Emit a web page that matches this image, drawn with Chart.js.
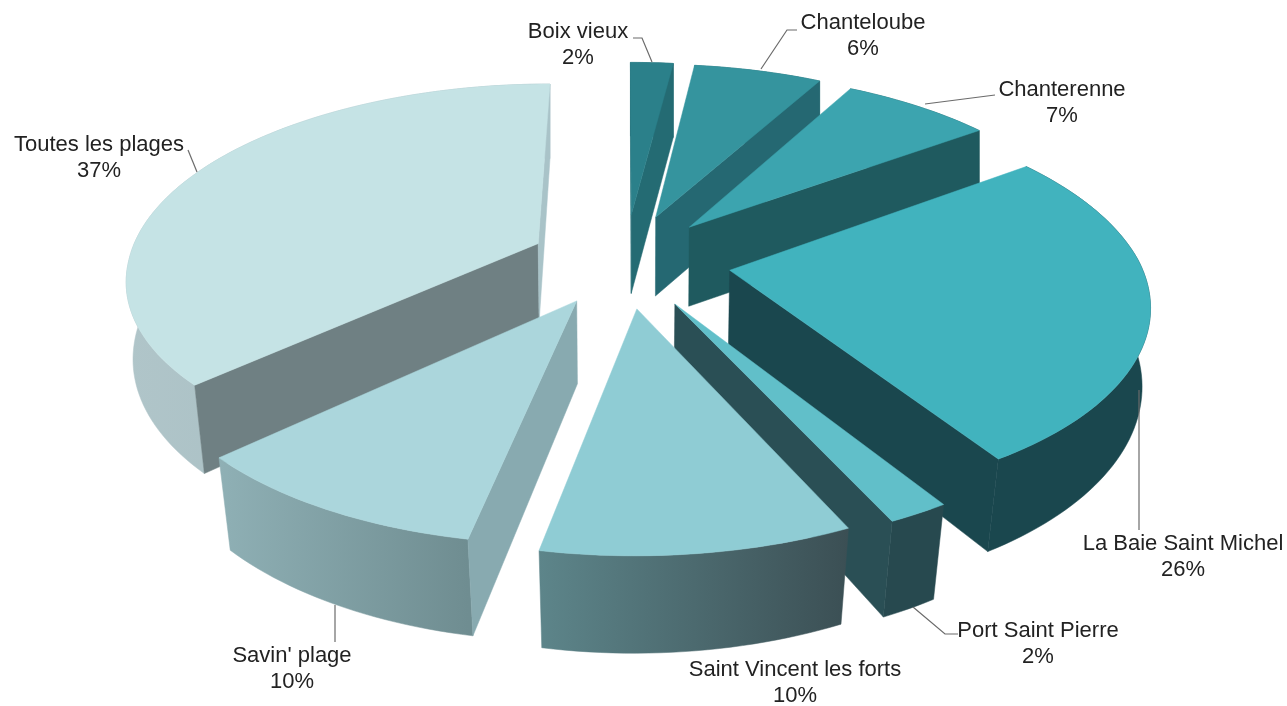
<!DOCTYPE html>
<html>
<head>
<meta charset="utf-8">
<title>Plages</title>
<script src="https://cdn.jsdelivr.net/npm/chart.js@4"></script>
<style>
  html, body { margin: 0; padding: 0; background: #fff; }
  canvas { display: block; }
</style>
</head>
<body>
<canvas id="pie" width="1287" height="706"></canvas>
<script>
// ===== DATA =====
const categories = ['Boix vieux', 'Chanteloube', 'Chanterenne', 'La Baie Saint Michel', 'Port Saint Pierre', 'Saint Vincent les forts', "Savin' plage", 'Toutes les plages'];
const shares = [2, 6, 7, 26, 2, 10, 10, 37];

// ===== STYLE PER SLICE =====
const explode = [104, 103, 100, 106, 102, 100, 95, 96];
const topColors = ['#2b808a', '#35949e', '#3ca4af', '#41b3be', '#61bfc9', '#8fccd4', '#abd6dc', '#c5e3e5'];
const startWall = ['#256e77', '#256a72', '#1f5a60', '#1a474e', '#2a4f55', '#3f5a5e', '#88aab0', '#6f8083'];
const endWall = ['#246b73', '#256872', '#1f5a5f', '#1a474e', '#2a4f55', '#3f5a5e', '#88aab0', '#a9c3c8'];
const rimLeft = ['#256e77', '#256a72', '#1f5a60', '#1a474e', '#27494f', '#5d858a', '#8fb0b5', '#b0c5c9'];
const rimRight = ['#256e77', '#256a72', '#1f5a60', '#1a474e', '#27494f', '#3b4f54', '#6f8d91', '#a0b9be'];

// ===== LABELS =====
const labelX = [578, 863, 1062, 1183, 1038, 795, 292, 99];
const labelY = [32, 23, 90, 544, 631, 670, 656, 145];
const leaders = [
  [[633, 38], [642, 38], [652, 62]],
  [[797, 30], [787, 30], [761, 69]],
  [[995, 95], [925, 104]],
  [[1139, 390], [1139, 530]],
  [[958, 634], [945, 634], [913, 607]],
  [],
  [[335, 605], [335, 642]],
  [[188, 150], [197, 172]]
];

// ===== VIEW =====
const viewX = 625, viewY = 261;
const squash = 0.464, persp = 0.00039, pieRadius = 410;
const lean = 0.012;

function project(X, Y, low) {
  const w = 1 + persp * Y;
  const t = Y / pieRadius;
  const shrink = Math.min(1, 0.988 + 0.018 * t);
  const depth = t > 0 ? 80 - 5 * t : 80 - 14 * t;
  return {
    x: viewX + X / w * (low ? shrink : 1) + lean * Math.min(Y, 0),
    y: viewY - squash * Y / w + (low ? depth : 0)
  };
}

function slicePoint(arc, angle, r, off, low) {
  const mid = (arc.startAngle + arc.endAngle) / 2;
  const X = Math.cos(angle) * r + Math.cos(mid) * off;
  const Y = -(Math.sin(angle) * r + Math.sin(mid) * off);
  return project(X, Y, low);
}

function fillPoly(ctx, pts, fill) {
  ctx.beginPath();
  pts.forEach((p, i) => i ? ctx.lineTo(p.x, p.y) : ctx.moveTo(p.x, p.y));
  ctx.closePath();
  ctx.fillStyle = fill;
  ctx.fill();
  ctx.strokeStyle = fill;
  ctx.lineWidth = 0.5;
  ctx.stroke();
}

function drawSlice(ctx, arc, i) {
  const off = arc.options.offset;
  const r = arc.outerRadius;
  const steps = Math.max(4, Math.ceil((arc.endAngle - arc.startAngle) * 40));
  const topArc = [], lowArc = [];
  for (let s = 0; s <= steps; s++) {
    const a = arc.startAngle + (arc.endAngle - arc.startAngle) * s / steps;
    topArc.push(slicePoint(arc, a, r, off, false));
    lowArc.push(slicePoint(arc, a, r, off, true));
  }
  const tip = slicePoint(arc, 0, 0, off, false);
  const tipLow = slicePoint(arc, 0, 0, off, true);
  const first = topArc[0], last = topArc[steps];

  // outer rim
  const xs = topArc.map(p => p.x);
  const grad = ctx.createLinearGradient(Math.min(...xs), 0, Math.max(...xs), 0);
  grad.addColorStop(0, rimLeft[i]);
  grad.addColorStop(1, rimRight[i]);
  fillPoly(ctx, topArc.concat(lowArc.slice().reverse()), grad);

  // cut faces, only those turned to the viewer
  if (first.x < tip.x) fillPoly(ctx, [tip, first, lowArc[0], tipLow], startWall[i]);
  if (tip.x < last.x) fillPoly(ctx, [last, tip, tipLow, lowArc[steps]], endWall[i]);

  // top face
  fillPoly(ctx, [tip].concat(topArc), topColors[i]);
}

// ===== 3D PIE PLUGIN =====
const pie3d = {
  id: 'pie3d',
  beforeDatasetDraw(chart, args) {
    const ctx = chart.ctx;
    const arcs = args.meta.data.map((arc, i) => ({ arc, i }));
    // far slices first
    arcs.sort((a, b) => {
      const ya = -Math.sin((a.arc.startAngle + a.arc.endAngle) / 2);
      const yb = -Math.sin((b.arc.startAngle + b.arc.endAngle) / 2);
      return yb - ya;
    });
    ctx.save();
    arcs.forEach(o => drawSlice(ctx, o.arc, o.i));
    ctx.restore();
    return false;
  },
  afterDatasetsDraw(chart) {
    const ctx = chart.ctx;
    ctx.save();
    ctx.strokeStyle = '#6b6b6b';
    ctx.lineWidth = 1.2;
    leaders.forEach(line => {
      if (!line.length) return;
      ctx.beginPath();
      line.forEach((p, i) => i ? ctx.lineTo(p[0], p[1]) : ctx.moveTo(p[0], p[1]));
      ctx.stroke();
    });
    ctx.fillStyle = '#222';
    ctx.font = '22px "Liberation Sans", Arial, sans-serif';
    ctx.textAlign = 'center';
    ctx.textBaseline = 'middle';
    categories.forEach((name, i) => {
      ctx.fillText(name, labelX[i], labelY[i]);
      ctx.fillText(shares[i] + '%', labelX[i], labelY[i] + 26);
    });
    ctx.restore();
  }
};

// ===== CHART =====
new Chart(document.getElementById('pie').getContext('2d'), {
  type: 'pie',
  data: {
    labels: categories,
    datasets: [{
      data: shares,
      backgroundColor: topColors,
      offset: explode,
      radius: pieRadius
    }]
  },
  options: {
    responsive: false,
    animation: false,
    events: [],
    plugins: { legend: { display: false }, tooltip: { enabled: false } }
  },
  plugins: [pie3d]
});
</script>
</body>
</html>
